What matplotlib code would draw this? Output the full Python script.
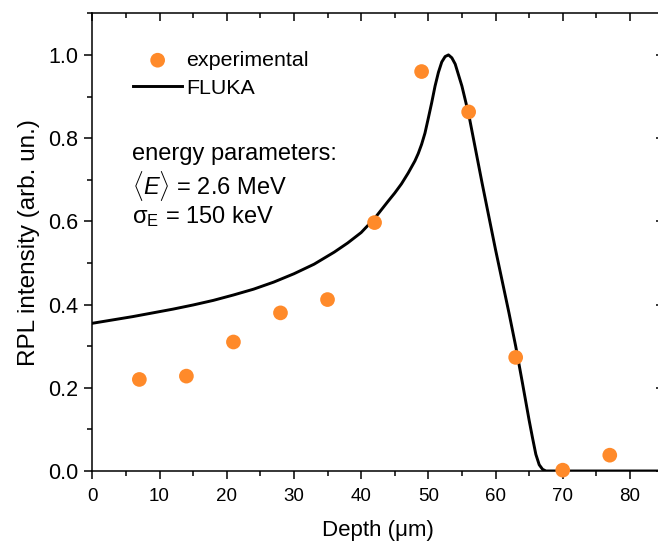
import matplotlib
matplotlib.use("Agg")
import matplotlib.pyplot as plt
import matplotlib.lines as mlines
from matplotlib.ticker import MultipleLocator

plt.rcParams['font.family'] = ['Liberation Sans', 'DejaVu Sans']
plt.rcParams['mathtext.fontset'] = 'custom'
plt.rcParams['mathtext.rm'] = 'Liberation Sans'
plt.rcParams['mathtext.it'] = 'Liberation Sans:italic'

# experimental points (depth in um, RPL intensity)
exp_depth = [7, 14, 21, 28, 35, 42, 49, 56, 63, 70, 77]
exp_rpl = [0.220, 0.228, 0.310, 0.380, 0.412, 0.597, 0.960, 0.863, 0.273, 0.002, 0.038]

# FLUKA curve
fluka_depth = [0, 3, 6, 9, 12, 15, 18, 21, 24, 27, 30, 33, 36, 38, 40, 42, 44,
               45, 46, 47, 48, 48.5, 49, 49.5, 50, 50.5, 51, 51.5, 52, 52.5,
               53, 53.5, 54, 55, 56, 57, 58, 59, 60, 61, 62, 63, 64, 65, 65.5,
               66, 66.5, 67, 67.5, 85]
fluka_rpl = [0.355, 0.363, 0.371, 0.380, 0.389, 0.399, 0.410, 0.423, 0.437,
             0.454, 0.474, 0.497, 0.526, 0.548, 0.573, 0.607, 0.648, 0.668,
             0.690, 0.716, 0.745, 0.763, 0.785, 0.812, 0.848, 0.885, 0.925,
             0.958, 0.983, 0.996, 1.000, 0.993, 0.978, 0.925, 0.858, 0.775,
             0.692, 0.612, 0.532, 0.456, 0.380, 0.300, 0.212, 0.122, 0.080,
             0.040, 0.015, 0.004, 0.0, 0.0]

fig = plt.figure(figsize=(6.58, 5.45), dpi=100)
ax = fig.add_axes([0.1403, 0.1358, 0.8681, 0.8398])

ax.plot(fluka_depth, fluka_rpl, color='black', lw=2.1, label='FLUKA', zorder=2)
ax.scatter(exp_depth, exp_rpl, s=112, color='#FF8A2A', edgecolors='none',
           label='experimental', zorder=3, clip_on=False)

ax.set_xlim(0, 85)
ax.set_ylim(0, 1.1)
ax.xaxis.set_major_locator(MultipleLocator(10))
ax.xaxis.set_minor_locator(MultipleLocator(5))
ax.yaxis.set_major_locator(MultipleLocator(0.2))
ax.yaxis.set_minor_locator(MultipleLocator(0.1))
ax.yaxis.set_major_formatter(plt.FormatStrFormatter('%.1f'))

for sp in ax.spines.values():
    sp.set_linewidth(1.1)
ax.tick_params(which='both', direction='out', width=1.1, top=True, right=True)
ax.tick_params(which='major', length=6)
ax.tick_params(which='minor', length=3.6)
ax.tick_params(axis='x', pad=6, labelsize=13.5)
ax.tick_params(axis='y', pad=4, labelsize=15.5)

ax.set_xlabel('Depth (μm)', fontsize=16, labelpad=11)
ax.set_ylabel('RPL intensity (arb. un.)', fontsize=17.5, labelpad=6)

handles, labels = ax.get_legend_handles_labels()
ax.legend(handles[::-1], labels[::-1], loc='upper left',
          bbox_to_anchor=(0.0713, 0.918), borderaxespad=0, borderpad=0,
          frameon=False, fontsize=15.4, handlelength=2.3,
          handletextpad=0.2, labelspacing=0.42)

ax.text(0.0696, 0.693, 'energy parameters:', transform=ax.transAxes,
        fontsize=17, va='center', ha='left')
ax.text(0.0696, 0.622, r'$\langle E\rangle$ = 2.6 MeV', transform=ax.transAxes,
        fontsize=17, va='center', ha='left')
ax.text(0.0696, 0.556, 'σ$_\\mathrm{E}$ = 150 keV', transform=ax.transAxes,
        fontsize=17, va='center', ha='left')

# top and right mirror ticks point inward, bottom and left point outward
fig.canvas.draw()
for t in ax.xaxis.get_major_ticks() + ax.xaxis.get_minor_ticks():
    t.tick2line.set_marker(mlines.TICKDOWN)
for t in ax.yaxis.get_major_ticks() + ax.yaxis.get_minor_ticks():
    t.tick2line.set_marker(mlines.TICKLEFT)

fig.savefig('out.png', dpi=100)
